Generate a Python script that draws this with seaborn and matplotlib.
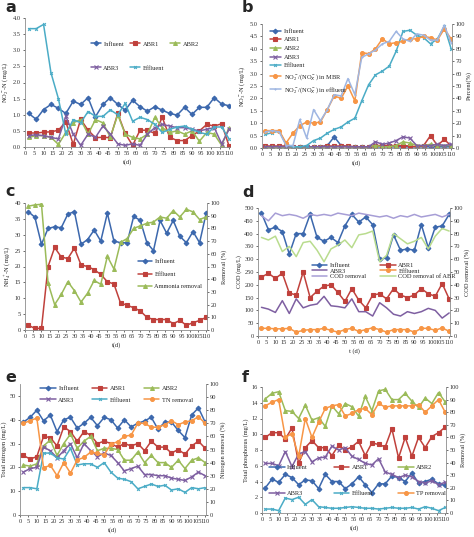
import matplotlib
matplotlib.use("Agg")
import matplotlib.pyplot as plt
import seaborn as sns

sns.set_style("ticks")
plt.rcParams['font.family'] = ['Liberation Serif', 'DejaVu Serif']
plt.rcParams['mathtext.fontset'] = 'custom'
plt.rcParams['mathtext.rm'] = 'Liberation Serif'

days = [2, 6, 10, 14, 18, 22, 26, 30, 34, 38, 42, 46, 50, 54, 58, 62, 66, 70,
        74, 78, 82, 86, 90, 94, 98, 102, 106, 110]

# ---------------- panel a : nitrite ----------------
a_influent = [1.04, 0.86, 1.16, 1.32, 1.20, 1.04, 1.42, 1.32, 1.53, 0.94, 1.32, 1.53, 1.32, 1.14,
              1.45, 1.25, 1.11, 1.25, 1.14, 1.04, 0.99, 1.23, 1.01, 1.23, 1.23, 1.53, 1.33, 1.28]
a_abr1 = [0.44, 0.43, 0.46, 0.47, 0.52, 0.78, 0.08, 0.86, 0.52, 0.29, 0.30, 0.29, 1.04, 0.42,
          0.05, 0.52, 0.52, 0.42, 0.92, 0.30, 0.20, 0.20, 0.35, 0.50, 0.70, 0.65, 0.72, 0.03]
a_abr2 = [0.30, 0.35, 0.35, 0.30, 0.08, 0.45, 0.75, 0.85, 0.40, 0.85, 0.75, 0.30, 1.00, 0.40,
          0.30, 0.25, 0.40, 0.92, 0.60, 0.45, 0.50, 0.40, 0.50, 0.18, 0.45, 0.40, 0.05, 0.60]
a_abr3 = [0.35, 0.38, 0.35, 0.30, 0.25, 0.95, 0.40, 0.05, 0.40, 0.30, 0.65, 0.40, 0.10, 0.05,
          0.10, 0.05, 0.40, 0.60, 0.70, 0.65, 0.60, 0.60, 0.55, 0.50, 0.55, 0.60, 0.10, 0.55]
a_effluent = [3.67, 3.67, 3.80, 2.30, 1.50, 0.40, 0.85, 0.75, 1.10, 0.95, 0.95, 1.15, 1.00, 1.35,
              0.80, 0.92, 0.85, 0.70, 0.45, 0.55, 0.62, 0.65, 0.55, 0.45, 0.40, 0.62, 0.62, 0.25]

# ---------------- panel b : nitrate ----------------
b_influent = [0.05, 0.05, 0.05, 0.05, 0.05, 0.05, 0.05, 0.05, 0.05, 0.10, 0.45, 0.10, 0.05, 0.05,
              0.05, 0.05, 0.05, 0.05, 0.05, 0.05, 0.05, 0.05, 0.05, 0.05, 0.05, 0.05, 0.05, 0.05]
b_abr1 = [0.08, 0.08, 0.08, 0.08, 0.05, 0.05, 0.03, 0.03, 0.05, 0.08, 0.08, 0.08, 0.08, 0.05,
          0.05, 0.05, 0.10, 0.10, 0.10, 0.10, 0.10, 0.08, 0.05, 0.10, 0.50, 0.10, 0.35, 0.08]
b_abr2 = [0.03, 0.03, 0.03, 0.03, 0.03, 0.03, 0.03, 0.03, 0.03, 0.05, 0.05, 0.05, 0.05, 0.05,
          0.05, 0.05, 0.10, 0.05, 0.05, 0.10, 0.25, 0.20, 0.10, 0.10, 0.15, 0.10, 0.10, 0.10]
b_abr3 = [0.05, 0.05, 0.05, 0.05, 0.05, 0.05, 0.05, 0.05, 0.05, 0.05, 0.05, 0.05, 0.05, 0.05,
          0.05, 0.05, 0.25, 0.15, 0.20, 0.30, 0.45, 0.40, 0.10, 0.10, 0.10, 0.15, 0.10, 0.15]
b_effluent = [0.55, 0.62, 0.68, 0.15, 0.05, 0.05, 0.10, 0.30, 0.40, 0.60, 0.75, 0.85, 1.05, 1.20,
              1.90, 2.55, 2.95, 3.10, 3.30, 3.90, 4.70, 4.75, 4.55, 4.45, 4.20, 4.40, 4.90, 4.00]
b_ratio_mbr = [14, 14, 14, 4, 12, 18, 21, 20, 21, 31, 42, 40, 50, 38,
               77, 76, 80, 88, 84, 85, 86, 88, 88, 90, 89, 87, 96, 88]
b_ratio_eff = [13, 14, 13, 2, 2, 23, 8, 31, 22, 31, 43, 42, 56, 43,
               73, 76, 79, 84, 86, 94, 88, 86, 92, 91, 87, 87, 99, 85]

# ---------------- panel c : ammonium ----------------
c_influent = [37.3, 35.5, 27.0, 32.0, 32.5, 32.2, 36.5, 37.3, 27.0, 28.5, 31.5, 28.0, 36.8, 28.0,
              27.5, 27.5, 35.8, 34.5, 27.5, 25.0, 34.5, 30.5, 34.5, 29.5, 27.5, 31.0, 27.5, 36.8]
c_effluent = [1.5, 0.5, 0.5, 20.0, 26.0, 23.0, 22.5, 25.8, 20.5, 20.0, 19.0, 17.5, 15.2, 14.5,
              8.5, 7.8, 7.0, 6.0, 4.0, 3.3, 3.3, 3.3, 2.0, 3.0, 1.5, 2.3, 3.0, 4.0]
c_removal = [97.5, 98.5, 99, 37, 20, 28, 38, 31, 22, 29, 39, 36, 58, 48,
             69, 72, 80, 82, 84, 85, 89, 88, 94, 89, 95, 93, 87, 89]

# ---------------- panel d : COD ----------------
d_influent = [480, 415, 425, 408, 320, 400, 400, 475, 385, 370, 385, 365, 430, 475,
              445, 465, 435, 300, 305, 395, 335, 340, 335, 435, 345, 425, 430, 475]
d_abr1 = [230, 245, 225, 245, 168, 160, 250, 150, 175, 195, 200, 170, 135, 185,
          140, 110, 160, 165, 145, 185, 160, 150, 160, 185, 165, 155, 205, 145]
d_abr3 = [112, 105, 92, 138, 88, 145, 110, 120, 125, 155, 118, 115, 110, 145,
          95, 95, 78, 130, 110, 85, 78, 95, 88, 95, 108, 100, 70, 90]
d_effluent = [30, 30, 28, 28, 30, 15, 22, 25, 25, 30, 22, 15, 25, 30,
              18, 25, 32, 25, 15, 25, 25, 25, 15, 30, 30, 22, 32, 18]
d_removal = [94, 90, 96, 94, 95, 94, 92, 95, 94, 95, 94, 96, 95, 94,
             96, 95, 94, 93, 94, 92, 94, 93, 95, 93, 94, 95, 93, 95]
d_removal_abr = [77, 75, 78, 66, 70, 62, 73, 74, 67, 58, 68, 71, 75, 69,
                 79, 80, 82, 58, 63, 80, 76, 72, 74, 77, 68, 78, 84, 82]

# ---------------- panel e : total nitrogen ----------------
e_influent = [39, 41, 44, 39.5, 42, 35, 40, 41, 36.5, 38.5, 41, 37.5, 41, 40,
              36.5, 40, 37, 38.5, 39.5, 41, 36, 39, 39, 35.5, 32.5, 42, 45, 39]
e_abr1 = [25, 23.5, 24.5, 33, 32.5, 29, 37, 35, 31, 35, 33.5, 30, 31, 30,
          28.5, 30, 29, 30, 27, 31, 28.5, 28.5, 26, 27.5, 25.5, 29, 31, 28]
e_abr2 = [21, 20.5, 21.5, 29, 31.5, 25, 30, 34, 28, 31, 33, 27, 28, 28,
          27.5, 23, 23, 26.5, 22, 25, 22, 22, 20, 23, 19.5, 23, 24, 22]
e_abr3 = [18, 19.5, 20, 28.5, 27, 24, 27, 30, 24, 30, 27, 24.5, 26, 25,
          22, 18.5, 19.5, 20.5, 17, 17, 16.5, 16.5, 15.5, 15, 14.5, 16, 18, 16.5]
e_effluent = [11.5, 11.5, 11, 26, 26, 24, 23.5, 28, 21, 21.5, 21.5, 20, 22, 18,
              15.5, 15, 14, 11, 12, 13, 12, 12.5, 10.5, 11, 9.5, 11.5, 11, 11.5]
e_removal = [70, 72, 74, 36, 38, 30, 40, 32, 42, 44, 48, 47, 46, 54,
             56, 60, 61, 70, 70, 67, 67, 69, 72, 69, 71, 72, 75, 70]

# ---------------- panel f : total phosphorus ----------------
f_influent = [3.2, 4.3, 3.9, 4.9, 4.5, 3.6, 4.2, 4.1, 3.1, 4.9, 4.0, 4.0, 3.1, 3.7,
              4.6, 3.6, 2.6, 3.7, 3.7, 4.7, 4.5, 4.0, 5.1, 3.8, 4.0, 4.3, 3.7, 3.5]
f_abr1 = [9.6, 10.2, 10.2, 9.4, 10.8, 6.3, 8.3, 9.2, 8.3, 8.3, 7.3, 8.6, 8.0, 8.4,
          9.1, 7.3, 8.9, 8.7, 8.4, 10.7, 7.0, 9.6, 7.2, 9.6, 8.3, 9.7, 10.2, 10.9]
f_abr2 = [14.5, 15.2, 15.4, 13.0, 12.9, 12.0, 13.7, 11.8, 12.1, 11.0, 13.6, 12.6, 13.9, 13.5,
          12.3, 14.8, 13.0, 15.5, 15.7, 14.4, 14.4, 15.2, 14.2, 13.4, 14.6, 13.9, 15.3, 14.1]
f_abr3 = [6.3, 6.3, 6.0, 7.8, 5.9, 7.5, 7.8, 6.5, 7.0, 7.1, 8.5, 8.0, 8.3, 7.2,
          6.8, 6.3, 6.1, 6.9, 5.2, 4.9, 4.5, 4.8, 4.6, 4.0, 3.8, 4.1, 3.6, 3.9]
f_effluent = [0.5, 0.5, 0.3, 1.9, 1.7, 2.0, 1.1, 1.7, 0.8, 0.7, 0.6, 0.6, 0.7, 0.8,
              0.7, 0.6, 0.6, 0.5, 0.6, 0.7, 0.6, 0.6, 0.7, 0.5, 0.8, 0.6, 0.3, 0.7]
f_removal = [85, 88, 90, 60, 63, 45, 75, 60, 72, 83, 85, 86, 77, 79,
             82, 83, 78, 87, 84, 85, 85, 85, 85, 86, 80, 85, 90, 80]

C_INF = '#3C68AD'
C_ABR1 = '#C0413C'
C_ABR2 = '#9BBB59'
C_ABR3 = '#7E5FA1'
C_EFF = '#4BACC6'
C_ORG = '#F79646'
C_LB = '#9FB6E2'
C_LAV = '#A79ED6'
C_LG = '#B9DC8E'

FS = 4.6


def draw(ax, y, color, marker, label, ms=2.8, lw=1.1):
    filled = marker not in ('x', '+', '*', None)
    sns.lineplot(x=days, y=y, ax=ax, color=color, marker=marker, markersize=ms,
                 linewidth=lw, markeredgecolor=color, markeredgewidth=0.8,
                 markerfacecolor=color if filled else 'none', errorbar=None,
                 legend=False)
    line = ax.get_lines()[-1]
    line.set_label(label)
    return line


def style(ax, ylim, yticks, fmt, ylabel, ax2=None, ylabel2=None):
    ax.set_xlim(0, 110.5)
    ax.set_xticks(list(range(0, 111, 5)))
    ax.set_xticklabels([str(v) for v in range(0, 111, 5)], fontsize=FS)
    ax.set_ylim(*ylim)
    ax.set_yticks(yticks)
    ax.set_yticklabels([fmt.format(v) for v in yticks], fontsize=FS)
    ax.set_xlabel('t(d)', fontsize=FS, labelpad=2)
    ax.set_ylabel(ylabel, fontsize=FS, labelpad=2)
    ax.tick_params(length=1.5, width=0.5, pad=1.5, colors='#333333')
    for s in ['top', 'right']:
        ax.spines[s].set_visible(False)
    for s in ['left', 'bottom']:
        ax.spines[s].set_color('#8c8c8c')
        ax.spines[s].set_linewidth(0.6)
    if ax2 is not None:
        ax2.set_ylim(0, 100)
        ax2.set_yticks(list(range(0, 101, 10)))
        ax2.set_yticklabels([str(v) for v in range(0, 101, 10)], fontsize=FS)
        ax2.set_ylabel(ylabel2, fontsize=FS, labelpad=0.8)
        ax2.tick_params(length=1.5, width=0.5, pad=1.2, colors='#333333')
        for s in ['top', 'left', 'bottom']:
            ax2.spines[s].set_visible(False)
        ax2.spines['right'].set_color('#8c8c8c')
        ax2.spines['right'].set_linewidth(0.6)
        ax2.set_xlabel('')


W, H = 474, 537
fig = plt.figure(figsize=(W / 100, H / 100), dpi=100)


def make_axes(left, top, right, bottom):
    return fig.add_axes([left / W, 1 - bottom / H, (right - left) / W, (bottom - top) / H])


def legend(ax, handles, ncol, anchor, colsp=1.5, labsp=0.6, hl=1.8):
    leg = ax.legend(handles=handles, labels=[h.get_label() for h in handles], ncol=ncol,
                    loc='upper left', bbox_to_anchor=anchor, frameon=False,
                    fontsize=FS, borderpad=0, borderaxespad=0, columnspacing=colsp,
                    labelspacing=labsp, handlelength=hl, handletextpad=0.4, numpoints=1)
    leg.set_zorder(20)
    return leg


# ---- a ----
ax = make_axes(25, 18, 230, 147)
h1 = draw(ax, a_influent, C_INF, 'D', 'Influent', ms=2.4)
h2 = draw(ax, a_abr1, C_ABR1, 's', 'ABR1')
h3 = draw(ax, a_abr2, C_ABR2, '^', 'ABR2')
h4 = draw(ax, a_abr3, C_ABR3, 'x', 'ABR3')
h5 = draw(ax, a_effluent, C_EFF, 'x', 'Effluent', ms=2.0)
style(ax, (0, 4.0), [0, 0.5, 1.0, 1.5, 2.0, 2.5, 3.0, 3.5, 4.0], '{:.1f}',
      r'NO$_2^-$-N (mg/L)')
legend(ax, [h1, h4, h2, h5, h3], 3, (0.32, 0.82), colsp=0.9, labsp=2.9, hl=1.6)

# ---- b ----
ax = make_axes(262, 24, 452, 148)
ax2 = ax.twinx()
h1 = draw(ax, b_influent, C_INF, 'D', 'Influent', ms=2.4)
h2 = draw(ax, b_abr1, C_ABR1, 's', 'ABR1')
h3 = draw(ax, b_abr2, C_ABR2, '^', 'ABR2')
h4 = draw(ax, b_abr3, C_ABR3, 'x', 'ABR3')
h5 = draw(ax, b_effluent, C_EFF, 'x', 'Effluent', ms=2.0)
h6 = draw(ax2, b_ratio_mbr, C_ORG, 'o', r'NO$_2^-$/(NO$_X^-$) in MBR')
h7 = draw(ax2, b_ratio_eff, C_LB, '+', r'NO$_2^-$/(NO$_X^-$) in effluent', ms=2.0)
style(ax, (0, 5.0), [0, 0.5, 1.0, 1.5, 2.0, 2.5, 3.0, 3.5, 4.0, 4.5, 5.0], '{:.1f}',
      r'NO$_3^-$-N (mg/L)', ax2, 'Percent(%)')
legend(ax2, [h1, h2, h3, h4, h5, h6, h7], 1, (0.04, 0.965), labsp=0.5)

# ---- c ----
ax = make_axes(25, 203, 207, 330)
ax2 = ax.twinx()
h1 = draw(ax, c_influent, C_INF, 'D', 'Influent', ms=2.4)
h2 = draw(ax, c_effluent, C_ABR1, 's', 'Effluent')
h3 = draw(ax2, c_removal, C_ABR2, '^', 'Ammonia removal')
style(ax, (0, 40), list(range(0, 41, 5)), '{:d}', r'NH$_4^+$-N (mg/L)', ax2, 'Removal (%)')
legend(ax2, [h1, h2, h3], 1, (0.62, 0.56), labsp=1.1, hl=2.2)

# ---- d ----
ax = make_axes(258, 208, 450, 336)
ax2 = ax.twinx()
h1 = draw(ax, d_influent, C_INF, 'D', 'Influent', ms=2.4)
h2 = draw(ax, d_abr1, C_ABR1, 's', 'ABR1')
h3 = draw(ax, d_abr3, C_ABR3, None, 'ABR3')
h4 = draw(ax, d_effluent, C_ORG, 'o', 'Effluent')
h5 = draw(ax2, d_removal, C_LAV, None, 'COD removal')
h6 = draw(ax2, d_removal_abr, C_LG, None, 'COD removal of ABR')
style(ax, (0, 500), list(range(0, 501, 50)), '{:d}', 'COD (mg/L)', ax2, 'COD removal (%)')
ax.set_xlabel('t (d)', fontsize=FS, labelpad=2)
legend(ax2, [h1, h3, h5, h2, h4, h6], 2, (0.28, 0.575), colsp=2.3, labsp=0.05, hl=2.4)

# ---- e ----
ax = make_axes(20, 384, 206, 515)
ax2 = ax.twinx()
h1 = draw(ax, e_influent, C_INF, 'D', 'Influent', ms=2.4)
h2 = draw(ax, e_abr1, C_ABR1, 's', 'ABR1')
h3 = draw(ax, e_abr2, C_ABR2, '^', 'ABR2')
h4 = draw(ax, e_abr3, C_ABR3, 'x', 'ABR3')
h5 = draw(ax, e_effluent, C_EFF, 'x', 'Effluent', ms=2.0)
h6 = draw(ax2, e_removal, C_ORG, 'o', 'TN removal')
style(ax, (0, 55), list(range(0, 51, 10)), '{:d}', 'Total nitrogen (mg/L)', ax2,
      'Nitrogen removal (%)')
legend(ax2, [h1, h4, h2, h5, h3, h6], 3, (0.11, 0.99), colsp=2.0, labsp=1.0, hl=2.4)

# ---- f ----
ax = make_axes(262, 387, 446, 513)
ax2 = ax.twinx()
h1 = draw(ax, f_influent, C_INF, 'D', 'Influent', ms=2.4)
h2 = draw(ax, f_abr1, C_ABR1, 's', 'ABR1')
h3 = draw(ax, f_abr2, C_ABR2, '^', 'ABR2')
h4 = draw(ax, f_abr3, C_ABR3, 'x', 'ABR3')
h5 = draw(ax, f_effluent, C_EFF, 'x', 'Effluent', ms=2.0)
h6 = draw(ax2, f_removal, C_ORG, 'o', 'TP removal')
style(ax, (0, 16), list(range(0, 17, 2)), '{:d}', 'Total phosphorus (mg/L)', ax2, 'Removal (%)')
legend(ax2, [h1, h4, h2, h5, h3, h6], 3, (0.04, 0.385), colsp=4.0, labsp=3.2, hl=2.4)

for letter, x, y in [('a', 5, 8), ('b', 242, 8), ('c', 5, 191), ('d', 242, 192),
                     ('e', 5, 378), ('f', 242, 378)]:
    fig.text(x / W, 1 - y / H, letter, fontsize=11.5, fontweight='bold',
             family=['DejaVu Sans'], va='center', ha='left')

fig.savefig('out.png', dpi=100)
